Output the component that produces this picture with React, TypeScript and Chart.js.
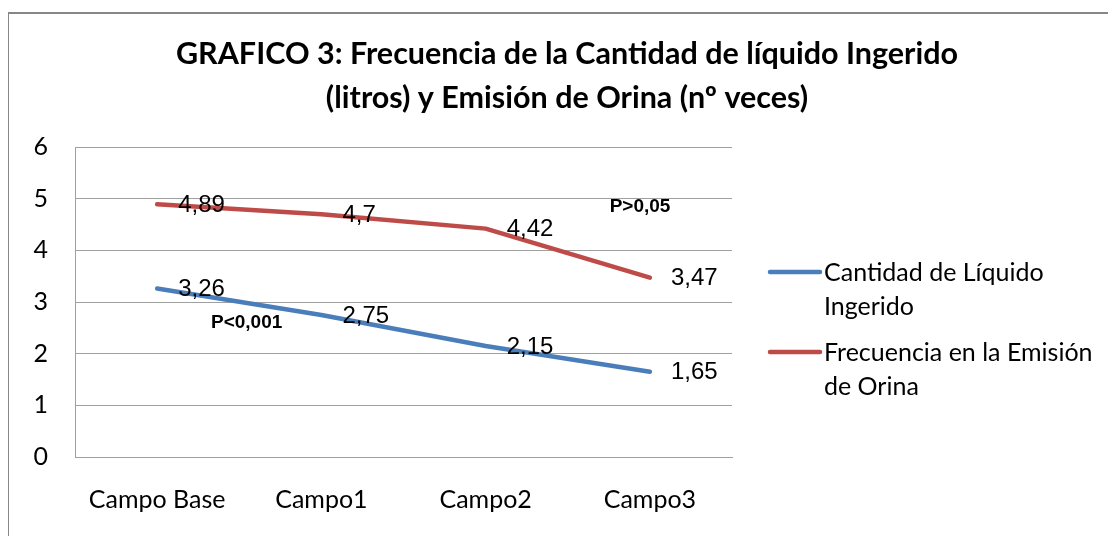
import React, { useEffect, useRef } from "react";
import { Chart, registerables } from "chart.js";

Chart.register(...registerables);

const categories = ["Campo Base", "Campo1", "Campo2", "Campo3"];
const liquidoValues = [3.26, 2.75, 2.15, 1.65];
const orinaValues = [4.89, 4.7, 4.42, 3.47];
const seriesLabels = [["Cantidad de Líquido", "Ingerido"], ["Frecuencia en la Emisión", "de Orina"]];
const titleLines = [
  "GRAFICO 3: Frecuencia de la Cantidad de líquido Ingerido",
  "(litros) y Emisión de Orina (nº veces)",
];
const annotationTexts = ["P<0,001", "P>0,05"];
const annotationX = [0.545, 2.94];
const annotationY = [2.6, 4.84];
const yMin = 0;
const yMax = 6;

const BLUE = "#4A7EBB";
const RED = "#BE4B48";
const GRID = "#a0a0a0";
const CAL = "Lato, 'Open Sans', sans-serif";
const ARIAL = "'Liberation Sans', Arial, sans-serif";

const fmt = (v: number) => String(v).replace(".", ",");

const extrasPlugin = {
  id: "extras",
  afterDraw(chart: any) {
    const ctx = chart.ctx;
    const xs = chart.scales.x;
    const ys = chart.scales.y;
    ctx.save();
    // title
    ctx.fillStyle = "#000";
    ctx.textAlign = "center";
    ctx.textBaseline = "middle";
    ctx.font = `bold 30.5px ${CAL}`;
    ctx.fillText(titleLines[0], 558, 40);
    ctx.fillText(titleLines[1], 558, 84);
    // data labels
    ctx.font = `24px ${ARIAL}`;
    ctx.textAlign = "left";
    chart.data.datasets.forEach((ds: any) => {
      ds.data.forEach((v: number, i: number) => {
        const px = xs.getPixelForValue(i);
        const py = ys.getPixelForValue(v);
        ctx.fillText(fmt(v), px + 21, py + 1);
      });
    });
    // annotations
    ctx.font = `bold 19px ${ARIAL}`;
    ctx.textAlign = "center";
    annotationTexts.forEach((t, i) => {
      ctx.fillText(t, xs.getPixelForValue(annotationX[i]), ys.getPixelForValue(annotationY[i]));
    });
    // legend
    const colors = [BLUE, RED];
    const legendTop = [259, 339];
    ctx.font = `25px ${CAL}`;
    ctx.textAlign = "left";
    seriesLabels.forEach((lines, k) => {
      ctx.strokeStyle = colors[k];
      ctx.lineWidth = 4.5;
      ctx.lineCap = "round";
      ctx.beginPath();
      ctx.moveTo(761, legendTop[k] - 1);
      ctx.lineTo(811, legendTop[k] - 1);
      ctx.stroke();
      lines.forEach((l, j) => {
        ctx.fillStyle = "#000";
        ctx.fillText(l, 815, legendTop[k] + j * 34);
      });
    });
    ctx.restore();
  },
};

export default function App() {
  const ref = useRef<HTMLCanvasElement>(null);
  useEffect(() => {
    if (!ref.current) return;
    const chart = new Chart(ref.current, {
      type: "line",
      data: {
        labels: categories,
        datasets: [
          {
            label: seriesLabels[0].join(" "),
            data: liquidoValues,
            borderColor: BLUE,
            backgroundColor: BLUE,
            borderWidth: 4.5,
            pointRadius: 0,
            tension: 0,
            borderCapStyle: "round",
            borderJoinStyle: "round",
          },
          {
            label: seriesLabels[1].join(" "),
            data: orinaValues,
            borderColor: RED,
            backgroundColor: RED,
            borderWidth: 4.5,
            pointRadius: 0,
            tension: 0,
            borderCapStyle: "round",
            borderJoinStyle: "round",
          },
        ],
      },
      options: {
        animation: false,
        responsive: false,
        maintainAspectRatio: false,
        layout: { padding: { top: 133, right: 384, bottom: 19, left: 0 } },
        plugins: {
          legend: { display: false },
          title: { display: false },
          tooltip: { enabled: false },
        },
        scales: {
          x: {
            offset: true,
            grid: { display: false, drawTicks: false },
            border: { display: true, color: GRID, width: 1 },
            ticks: { color: "#000", padding: 28, font: { family: CAL, size: 25 } },
            afterFit: (s: any) => {
              s.height = 60;
            },
          },
          y: {
            min: yMin,
            max: yMax,
            grid: { color: GRID, lineWidth: 1, drawTicks: false },
            border: { display: true, color: GRID, width: 1 },
            ticks: { stepSize: 1, color: "#000", padding: 27, font: { family: CAL, size: 25 } },
            afterFit: (s: any) => {
              s.width = 66;
            },
          },
        },
      },
      plugins: [extrasPlugin],
    });
    return () => chart.destroy();
  }, []);
  return (
    <div
      style={{
        marginTop: 4,
        marginLeft: -1,
        width: 1107,
        height: 522,
        borderTop: "2px solid #878787",
        borderLeft: "2px solid #878787",
        overflow: "hidden",
        background: "#fff",
      }}
    >
      <canvas ref={ref} width={1107} height={522} style={{ display: "block" }} />
    </div>
  );
}
